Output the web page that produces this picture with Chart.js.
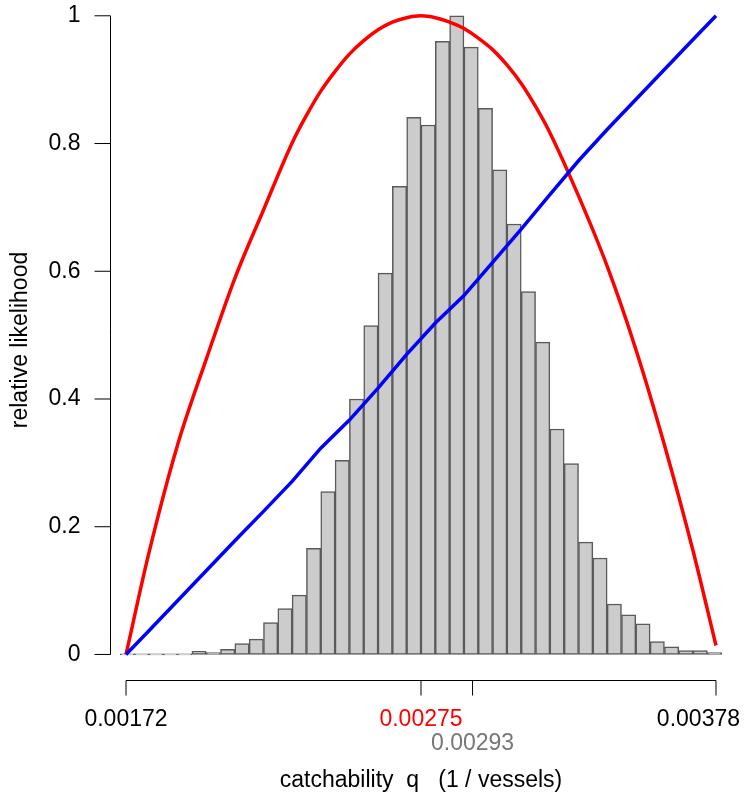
<!DOCTYPE html>
<html>
<head>
<meta charset="utf-8">
<script src="https://cdn.jsdelivr.net/npm/chart.js@4.4.0/dist/chart.umd.min.js"></script>
<style>
    html, body { margin: 0; padding: 0; background: #fff; }
    #wrap { width: 744px; height: 803px; }
</style>
</head>
<body>
<div id="wrap"><canvas id="qChart" width="744" height="803"></canvas></div>
<script>
// histogram of q draws, bins of 0.00005 starting at 0.00170
const binStart = 0.00170;
const binWidth = 0.00005;
const histValues = [
    0, 0, 0, 0, 0,
    0.005, 0.003, 0.008, 0.017, 0.024, 0.050, 0.072, 0.093, 0.166, 0.255,
    0.304, 0.400, 0.515, 0.597, 0.733, 0.841, 0.829, 0.960, 1.000, 0.951,
    0.855, 0.759, 0.674, 0.568, 0.489, 0.353, 0.299, 0.176, 0.151, 0.079,
    0.062, 0.048, 0.020, 0.012, 0.006, 0.006, 0.003
];

// likelihood profile (red)
const likeQ = [
    0.00172, 0.00180, 0.00190, 0.00200, 0.00210, 0.00220, 0.00230, 0.00235,
    0.00240, 0.00245, 0.00250, 0.00255, 0.00260, 0.00265, 0.00270, 0.00275,
    0.00280, 0.00285, 0.00290, 0.00295, 0.00300, 0.00305, 0.00310, 0.00315,
    0.00320, 0.00330, 0.00340, 0.00350, 0.00360, 0.00370, 0.00378
];
const likelihood = [
    0.000, 0.159, 0.328, 0.462, 0.589, 0.696, 0.801, 0.844,
    0.882, 0.913, 0.940, 0.961, 0.978, 0.990, 0.997, 1.000,
    0.997, 0.990, 0.980, 0.965, 0.947, 0.923, 0.894, 0.858,
    0.817, 0.718, 0.608, 0.478, 0.328, 0.162, 0.014
];

// cumulative (blue)
const cumQ = [
    0.00172, 0.00180, 0.00190, 0.00200, 0.00210, 0.00220, 0.00230, 0.00240,
    0.00250, 0.00260, 0.00270, 0.00280, 0.00290, 0.00300, 0.00310, 0.00320,
    0.00330, 0.00340, 0.00350, 0.00360, 0.00370, 0.00378
];
const cumulative = [
    0.000, 0.037, 0.084, 0.131, 0.178, 0.224, 0.271, 0.323,
    0.367, 0.417, 0.470, 0.519, 0.562, 0.614, 0.666, 0.720,
    0.773, 0.822, 0.869, 0.916, 0.963, 1.000
];

const xTicks = [0.00172, 0.00275, 0.00293, 0.00378];
const xTickLabels = ["0.00172", "0.00275", "0.00293", "0.00378"];
const xTickColors = ["#000000", "#ff0000", "#777777", "#000000"];
const xTickRow = [0, 0, 1, 0];
const yTicks = [0, 0.2, 0.4, 0.6, 0.8, 1];
const yTickLabels = ["0", "0.2", "0.4", "0.6", "0.8", "1"];

const FONT = '23px "Liberation Sans", Arial, sans-serif';

function toPoints(xs, ys) {
    return xs.map((x, i) => ({ x: x, y: ys[i] }));
}

const histPoints = histValues.map((h, i) => ({ x: binStart + binWidth * (i + 0.5), y: h }));

// draws R style axes from the chart's own scales
const rAxes = {
    id: "rAxes",
    afterDraw(chart) {
        const ctx = chart.ctx;
        const xs = chart.scales.x;
        const ys = chart.scales.y;
        const area = chart.chartArea;
        ctx.save();
        ctx.strokeStyle = "#000";
        ctx.lineWidth = 1;
        ctx.font = FONT;

        // y axis
        const ax = Math.round(area.left) + 0.5;
        ctx.beginPath();
        ctx.moveTo(ax, ys.getPixelForValue(0));
        ctx.lineTo(ax, ys.getPixelForValue(1));
        yTicks.forEach(v => {
            const py = ys.getPixelForValue(v);
            ctx.moveTo(ax, py);
            ctx.lineTo(ax - 16, py);
        });
        ctx.stroke();
        ctx.fillStyle = "#000";
        ctx.textAlign = "right";
        ctx.textBaseline = "middle";
        yTicks.forEach((v, i) => {
            ctx.fillText(yTickLabels[i], ax - 30, ys.getPixelForValue(v));
        });

        // x axis
        const ay = Math.round(area.bottom) + 0.5;
        ctx.beginPath();
        ctx.moveTo(xs.getPixelForValue(xTicks[0]), ay);
        ctx.lineTo(xs.getPixelForValue(xTicks[xTicks.length - 1]), ay);
        xTicks.forEach(v => {
            const px = xs.getPixelForValue(v);
            ctx.moveTo(px, ay);
            ctx.lineTo(px, ay + 15);
        });
        ctx.stroke();
        ctx.textAlign = "center";
        const maxRight = chart.width - 4;
        xTicks.forEach((v, i) => {
            const w = ctx.measureText(xTickLabels[i]).width;
            let cx = xs.getPixelForValue(v);
            if (cx + w / 2 > maxRight) cx = maxRight - w / 2;
            ctx.fillStyle = xTickColors[i];
            ctx.fillText(xTickLabels[i], cx, ay + 39 + xTickRow[i] * 24);
        });

        // titles
        ctx.fillStyle = "#000";
        ctx.fillText("catchability  q   (1 / vessels)", (area.left + area.right) / 2, 781);
        ctx.translate(21, (area.top + area.bottom) / 2 - 4);
        ctx.rotate(-Math.PI / 2);
        ctx.fillText("relative likelihood", 0, 0);
        ctx.restore();
    }
};

document.addEventListener("DOMContentLoaded", function () {
    const ctx = document.getElementById("qChart").getContext("2d");
    new Chart(ctx, {
        type: "bar",
        data: {
            datasets: [
                {
                    type: "line",
                    label: "cumulative",
                    data: toPoints(cumQ, cumulative),
                    borderColor: "#0000ff",
                    borderWidth: 3.5,
                    pointRadius: 0,
                    tension: 0,
                    fill: false,
                    order: 0,
                },
                {
                    type: "line",
                    label: "likelihood",
                    data: toPoints(likeQ, likelihood),
                    borderColor: "#ff0000",
                    borderWidth: 3.5,
                    pointRadius: 0,
                    cubicInterpolationMode: "monotone",
                    fill: false,
                    order: 1,
                },
                {
                    type: "bar",
                    label: "q",
                    data: histPoints,
                    backgroundColor: "#cccccc",
                    borderColor: "#5a5a5a",
                    borderWidth: 1.5,
                    borderSkipped: false,
                    minBarLength: 1,
                    barPercentage: 1,
                    categoryPercentage: 1,
                    order: 2,
                },
            ],
        },
        options: {
            responsive: false,
            animation: false,
            devicePixelRatio: 1,
            layout: { padding: { left: 110, right: 12, top: 8, bottom: 123 } },
            plugins: {
                legend: { display: false },
                tooltip: { enabled: false },
            },
            scales: {
                x: { type: "linear", min: 0.0016641, max: 0.0038359, offset: false, display: false },
                y: { type: "linear", min: -0.04, max: 1.0122, display: false },
            },
        },
        plugins: [rAxes],
    });
});
</script>
</body>
</html>
